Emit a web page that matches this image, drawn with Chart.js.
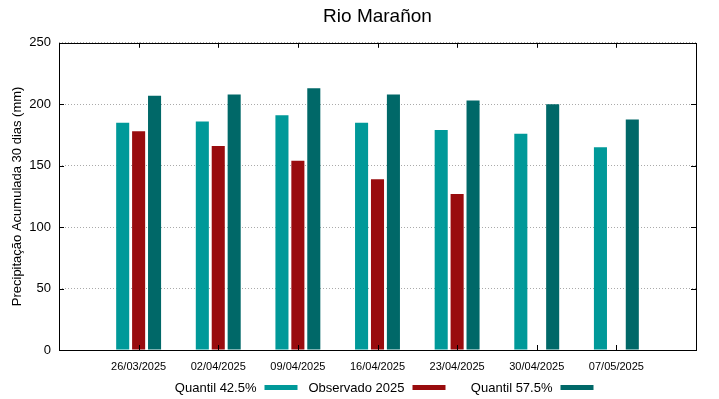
<!DOCTYPE html>
<html>
<head>
<meta charset="utf-8">
<script src="https://cdn.jsdelivr.net/npm/chart.js@4/dist/chart.umd.min.js"></script>
<style>
  html, body { margin: 0; padding: 0; background: #fff; }
  canvas { display: block; }
</style>
</head>
<body>
<canvas id="grafico" width="719" height="399"></canvas>
<script>
// Datas das semanas
const datas = ['26/03/2025', '02/04/2025', '09/04/2025', '16/04/2025', '23/04/2025', '30/04/2025', '07/05/2025'];

// Precipitação acumulada 30 dias (mm)
const quantil425 = [185, 186, 191, 185, 179, 176, 165];
const observado2025 = [178, 166, 154, 139, 127, null, null];
const quantil575 = [207, 208, 213, 208, 203, 200, 187.5];

const ticksY = [0, 50, 100, 150, 200, 250];

// uma categoria vazia em cada ponta, como no gráfico original
const rotulos = [''].concat(datas, ['']);
const preencher = arr => [null].concat(arr, [null]);

const corQ425 = '#009999';
const corObs = '#990c0e';
const corQ575 = '#006868';
const fonte = "'Liberation Sans', Arial, sans-serif";

// borda, marcas internas e legenda no estilo gnuplot
const molduraPlugin = {
  id: 'moldura',
  afterDatasetsDraw(chart) {
    const { ctx, chartArea: a, scales } = chart;
    ctx.save();
    ctx.strokeStyle = '#000';
    ctx.lineWidth = 1;
    ctx.strokeRect(Math.round(a.left) + 0.5, Math.round(a.top) + 0.5,
      Math.round(a.right - a.left), Math.round(a.bottom - a.top));

    ctx.beginPath();
    ticksY.forEach(v => {
      if (v === 0 || v === 250) return;
      const y = Math.round(scales.y.getPixelForValue(v)) + 0.5;
      ctx.moveTo(a.left, y); ctx.lineTo(a.left + 5, y);
      ctx.moveTo(a.right, y); ctx.lineTo(a.right - 5, y);
    });
    datas.forEach((d, i) => {
      const x = Math.round(scales.x.getPixelForValue(i + 1)) + 0.5;
      ctx.moveTo(x, a.bottom); ctx.lineTo(x, a.bottom - 5);
      ctx.moveTo(x, a.top); ctx.lineTo(x, a.top + 5);
    });
    ctx.stroke();
    ctx.restore();
  },
  afterDraw(chart) {
    const { ctx, chartArea: a } = chart;
    const colW = 148;
    const inicio = (a.left + a.right) / 2 - colW * 1.5;
    ctx.save();
    ctx.font = '13px ' + fonte;
    ctx.textAlign = 'right';
    ctx.textBaseline = 'middle';
    chart.data.datasets.forEach((ds, i) => {
      const fim = inicio + colW * (i + 1) - 6;
      const x0 = fim - 33;
      ctx.fillStyle = ds.backgroundColor;
      ctx.fillRect(x0, 385, 33, 5);
      ctx.fillStyle = '#000';
      ctx.fillText(ds.label, x0 - 8, 388);
    });
    ctx.restore();
  }
};

new Chart(document.getElementById('grafico').getContext('2d'), {
  type: 'bar',
  data: {
    labels: rotulos,
    datasets: [
      { label: 'Quantil 42.5%', data: preencher(quantil425), backgroundColor: corQ425 },
      { label: 'Observado 2025', data: preencher(observado2025), backgroundColor: corObs },
      { label: 'Quantil 57.5%', data: preencher(quantil575), backgroundColor: corQ575 }
    ]
  },
  options: {
    responsive: false,
    animation: false,
    devicePixelRatio: 1,
    categoryPercentage: 0.6,
    barPercentage: 0.82,
    layout: { padding: { left: 0, right: 23, top: 0, bottom: 0 } },
    plugins: {
      legend: { display: false },
      tooltip: { enabled: false },
      title: {
        display: true,
        text: 'Rio Marañon',
        fullSize: false,
        color: '#000',
        font: { family: fonte, size: 19, weight: 'normal' },
        padding: { top: 5, bottom: 15 }
      }
    },
    scales: {
      x: {
        offset: false,
        grid: { display: false, drawTicks: false },
        border: { display: false },
        ticks: {
          color: '#000',
          font: { family: fonte, size: 11 },
          padding: 10,
          maxRotation: 0,
          autoSkip: false
        },
        afterFit(scale) { scale.height = 49; }
      },
      y: {
        min: 0,
        max: 250,
        afterBuildTicks(scale) { scale.ticks = ticksY.map(v => ({ value: v })); },
        grid: {
          color: '#aaaaaa',
          lineWidth: 1,
          drawTicks: false
        },
        border: { display: false, dash: [1, 2] },
        ticks: {
          color: '#000',
          font: { family: fonte, size: 13 },
          padding: 8
        },
        title: {
          display: true,
          text: 'Precipitação Acumulada 30 dias (mm)',
          color: '#000',
          font: { family: fonte, size: 13 },
          padding: { top: 10, bottom: 0 }
        },
        afterFit(scale) { scale.width = 59; }
      }
    }
  },
  plugins: [molduraPlugin]
});
</script>
</body>
</html>
